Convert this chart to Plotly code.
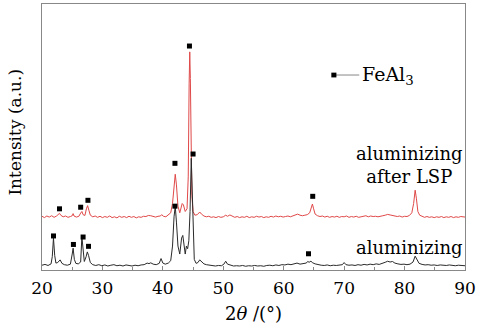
import plotly.graph_objects as go

# ---- data ----
black_x = [20.0,20.5,21.0,21.5,21.7,21.9,22.1,22.3,22.6,23.0,23.3,23.7,24.2,24.7,25.0,25.15,25.35,25.6,26.0,26.4,
           26.6,26.8,27.0,27.3,27.5,27.7,28.0,28.4,28.9,29.4,29.9,30.4,30.9,31.4,31.9,32.4,32.9,33.4,33.9,34.4,
           34.9,35.4,35.9,36.4,36.9,37.4,37.7,38.0,38.4,38.9,39.4,39.7,40.0,40.4,40.9,41.3,41.6,41.85,42.05,42.25,
           42.5,42.8,43.1,43.3,43.5,43.7,43.9,44.1,44.3,44.5,44.7,44.85,45.0,45.2,45.5,45.8,46.1,46.4,46.8,47.2,
           47.7,48.2,48.7,49.2,49.7,50.1,50.4,50.7,51.2,51.7,52.2,52.7,53.2,53.7,54.2,54.7,55.2,55.7,56.2,56.7,
           57.2,57.7,58.2,58.7,59.2,59.7,60.2,60.7,61.2,61.7,62.2,62.7,63.2,63.7,64.0,64.2,64.5,64.8,65.2,65.7,
           66.2,66.7,67.2,67.7,68.2,68.7,69.2,69.7,70.0,70.3,70.8,71.3,71.8,72.3,72.8,73.3,73.8,74.3,74.8,75.3,
           75.8,76.3,76.8,77.2,77.6,78.0,78.4,78.9,79.4,79.9,80.4,80.9,81.4,81.75,82.0,82.4,82.9,83.4,83.9,84.4,
           84.9,85.4,85.9,86.4,86.9,87.4,87.9,88.4,88.9,89.4,90.0]
black_y = [1.8,2.1,1.7,2.3,5.0,12.0,5.5,2.6,2.8,3.8,2.5,2.0,1.8,2.2,6.0,8.2,4.0,2.5,2.3,3.0,
           12.5,6.0,3.2,5.0,6.8,5.5,2.8,2.0,1.7,2.0,1.6,1.9,1.5,1.8,2.0,1.6,1.8,1.5,1.9,1.7,
           1.5,1.8,1.6,1.9,2.0,2.6,2.4,2.7,2.2,2.0,2.5,4.3,2.6,2.2,2.6,3.5,9.0,20.0,24.0,18.0,
           9.0,6.0,12.0,13.0,8.0,6.0,9.0,8.0,11.0,22.0,42.0,30.0,12.0,4.0,2.5,2.8,3.8,3.2,2.3,2.0,
           1.8,1.6,1.5,1.7,1.6,2.2,3.3,2.2,1.7,1.5,1.6,1.5,1.7,1.4,1.6,1.5,1.7,1.5,1.6,1.4,
           1.7,1.8,1.6,1.9,1.7,2.0,1.9,2.2,2.0,2.3,2.6,2.2,2.4,2.6,3.2,2.9,3.3,2.7,2.3,2.0,
           1.8,1.7,1.9,1.6,1.8,1.7,1.8,2.0,2.8,2.0,1.8,1.9,1.7,2.0,1.8,2.1,1.9,2.2,2.0,2.3,
           2.1,2.4,2.9,3.3,3.0,3.2,2.6,2.3,2.1,2.2,2.0,2.2,3.0,5.2,4.2,2.5,2.1,1.9,2.0,1.8,
           1.9,1.7,1.9,1.8,1.7,1.9,1.8,1.6,1.8,1.7,1.6]

red_x = [20.0,20.4,20.8,21.2,21.6,22.0,22.4,22.7,22.9,23.1,23.5,23.9,24.3,24.7,25.0,25.15,25.3,25.7,26.1,26.4,
         26.6,26.8,27.1,27.35,27.55,27.75,28.0,28.4,28.8,29.2,29.6,30.0,30.4,30.8,31.2,31.6,32.0,32.4,32.8,33.2,
         33.6,34.0,34.4,34.8,35.2,35.6,36.0,36.4,36.8,37.2,37.6,38.0,38.4,38.8,39.2,39.6,39.8,40.1,40.5,40.9,
         41.3,41.6,41.85,42.05,42.25,42.5,42.8,43.0,43.2,43.4,43.7,44.0,44.2,44.35,44.45,44.55,44.65,44.8,45.0,45.3,
         45.7,46.1,46.4,46.8,47.2,47.6,48.0,48.4,48.8,49.2,49.6,50.0,50.4,50.7,51.1,51.5,51.9,52.3,52.7,53.1,
         53.5,53.9,54.3,54.7,55.1,55.5,55.9,56.3,56.7,57.1,57.5,57.9,58.3,58.7,59.1,59.5,59.9,60.3,60.7,61.1,
         61.5,61.9,62.3,62.7,63.1,63.5,63.9,64.3,64.55,64.75,64.95,65.2,65.6,66.0,66.4,66.8,67.2,67.6,68.0,68.4,
         68.8,69.2,69.6,70.0,70.4,70.8,71.2,71.6,72.0,72.4,72.8,73.2,73.6,74.0,74.4,74.8,75.2,75.6,76.0,76.4,
         76.8,77.2,77.6,78.0,78.4,78.8,79.2,79.6,80.0,80.4,80.8,81.2,81.5,81.75,81.95,82.2,82.5,82.9,83.3,83.7,
         84.1,84.5,84.9,85.3,85.7,86.1,86.5,86.9,87.3,87.7,88.1,88.5,88.9,89.3,90.0]
red_y = [20.2,19.7,20.3,19.9,20.4,19.8,20.3,20.8,21.3,20.6,20.0,20.3,19.8,20.1,20.4,21.2,20.3,19.9,20.2,21.4,
         22.0,20.8,20.5,23.0,24.2,22.5,20.6,20.0,20.3,19.8,20.2,19.7,20.1,19.8,20.3,19.7,20.0,19.6,20.2,19.8,
         20.1,19.7,20.2,19.8,20.1,19.6,20.0,19.8,20.2,20.1,20.5,20.4,20.1,19.9,20.2,20.3,20.8,20.2,20.0,20.6,
         21.5,25.0,33.0,36.0,32.0,24.0,21.5,23.0,25.0,24.5,22.0,23.0,35.0,70.0,82.0,72.0,45.0,28.0,22.0,20.6,
         20.8,21.8,21.0,20.3,20.0,20.2,19.8,20.0,19.7,20.1,19.8,20.0,20.6,20.2,20.7,20.2,19.8,20.1,19.7,20.0,
         19.8,20.2,19.7,20.0,19.8,20.2,19.9,20.1,19.7,20.0,19.8,20.2,19.9,20.3,20.0,20.2,19.9,20.1,20.3,20.0,
         20.3,20.5,21.0,20.6,20.4,20.6,20.8,21.5,23.5,24.8,23.0,21.0,20.4,20.1,20.3,19.9,20.2,19.8,20.1,19.9,
         20.2,19.8,20.1,20.0,20.3,19.8,20.1,19.9,20.2,19.8,20.0,20.2,20.4,20.0,20.3,20.1,20.2,20.0,20.3,20.4,
         20.6,20.9,20.7,20.5,20.3,20.1,20.3,19.9,20.2,20.1,20.5,21.5,25.0,30.0,27.0,22.0,20.6,20.1,19.8,20.1,
         19.8,20.0,19.7,20.0,19.8,20.1,19.7,20.0,19.8,20.1,19.7,20.0,19.8,20.1,19.9]

black_mark_x = [21.9, 25.2, 26.8, 27.7, 42.0, 45.0, 64.1]
black_mark_y = [12.8, 9.6, 12.4, 8.9, 24.0, 43.6, 6.1]
red_mark_x = [22.9, 26.4, 27.6, 42.0, 44.4, 64.8]
red_mark_y = [23.0, 23.6, 26.2, 40.1, 84.2, 27.7]

x_ticks = [20, 30, 40, 50, 60, 70, 80, 90]

FONT = "DejaVu Serif"
RED = "#e04848"
BLACK = "#2a2a2a"

fig = go.Figure()
fig.add_trace(go.Scatter(x=red_x, y=red_y, mode="lines",
                         line=dict(color=RED, width=1), showlegend=False))
fig.add_trace(go.Scatter(x=black_x, y=black_y, mode="lines",
                         line=dict(color=BLACK, width=1), showlegend=False))
fig.add_trace(go.Scatter(x=red_mark_x, y=red_mark_y, mode="markers",
                         marker=dict(symbol="square", size=5, color="black"), showlegend=False))
fig.add_trace(go.Scatter(x=black_mark_x, y=black_mark_y, mode="markers",
                         marker=dict(symbol="square", size=5, color="black"), showlegend=False))

# legend-like key
fig.add_shape(type="line", xref="paper", yref="paper", x0=0.695, x1=0.750, y0=0.733, y1=0.733,
              line=dict(color="#888888", width=1))
fig.add_shape(type="rect", xref="paper", yref="paper", x0=0.684, x1=0.696, y0=0.724, y1=0.742,
              fillcolor="black", line=dict(width=0))
fig.add_annotation(x=0.752, y=0.733, xref="paper", yref="paper", text="FeAl<sub>3</sub>",
                   showarrow=False, xanchor="left", yanchor="middle",
                   font=dict(family=FONT, size=19, color="black"))
fig.add_annotation(x=0.868, y=0.393, xref="paper", yref="paper", text="aluminizing<br>after LSP",
                   showarrow=False, xanchor="center", yanchor="middle", align="center",
                   font=dict(family=FONT, size=18, color="black"))
fig.add_annotation(x=0.868, y=0.086, xref="paper", yref="paper", text="aluminizing",
                   showarrow=False, xanchor="center", yanchor="middle",
                   font=dict(family=FONT, size=18, color="black"))
# axis titles
fig.add_annotation(x=-0.064, y=0.52, xref="paper", yref="paper", text="Intensity (a.u.)",
                   textangle=-90, showarrow=False, xanchor="center", yanchor="middle",
                   font=dict(family=FONT, size=17, color="black"))
fig.add_annotation(x=0.5, y=-0.162, xref="paper", yref="paper", text="2<i>θ</i> /(°)",
                   showarrow=False, xanchor="center", yanchor="middle",
                   font=dict(family=FONT, size=18, color="black"))

fig.update_layout(
    width=482, height=329,
    margin=dict(l=42, r=17, t=4, b=59),
    paper_bgcolor="white", plot_bgcolor="white",
    font=dict(family=FONT, size=16, color="black"),
    xaxis=dict(range=[20, 90], tickvals=x_ticks, ticks="inside", ticklen=4, tickcolor="#888888",
               minor=dict(dtick=5, ticks="inside", ticklen=3, tickcolor="#888888"),
               showline=True, linecolor="#888888", linewidth=1.2, mirror=True, showgrid=False,
               zeroline=False, tickfont=dict(family=FONT, size=17), ticklabelstandoff=2,
               automargin=False),
    yaxis=dict(range=[0, 100], showticklabels=False, ticks="", showline=True, linecolor="#888888",
               linewidth=1.2, mirror=True, showgrid=False, zeroline=False, automargin=False),
)

fig.write_html("out.html", config={"displayModeBar": False},
               post_script="document.body.style.margin='0px';")
